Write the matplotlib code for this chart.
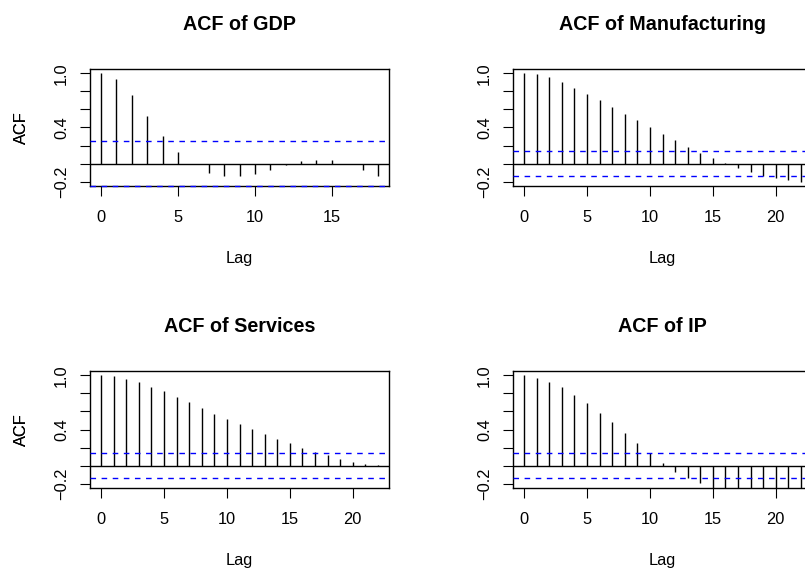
import numpy as np
import matplotlib
matplotlib.use("Agg")
import matplotlib.pyplot as plt

plt.rcParams['font.family'] = ['Liberation Sans', 'DejaVu Sans']

# autocorrelations, lag 0 first
titles = ['ACF of GDP', 'ACF of Manufacturing', 'ACF of Services', 'ACF of IP']

acf_gdp = [1.0, 0.934, 0.761, 0.529, 0.305, 0.125, -0.006, -0.100, -0.140, -0.140,
           -0.118, -0.066, -0.015, 0.024, 0.044, 0.037, -0.004, -0.066, -0.140]
acf_manuf = [1.0, 0.989, 0.956, 0.904, 0.842, 0.776, 0.702, 0.629, 0.555, 0.482,
             0.408, 0.331, 0.261, 0.187, 0.121, 0.062, 0.006, -0.050, -0.094, -0.134,
             -0.160, -0.184, -0.200]
acf_serv = [1.0, 0.989, 0.960, 0.923, 0.876, 0.821, 0.759, 0.700, 0.639, 0.577,
            0.518, 0.456, 0.401, 0.347, 0.292, 0.245, 0.196, 0.155, 0.115, 0.078,
            0.044, 0.015, 0.004]
acf_ip = [1.0, 0.967, 0.927, 0.869, 0.781, 0.690, 0.588, 0.478, 0.361, 0.245,
          0.135, 0.033, -0.067, -0.133, -0.196, -0.26, -0.29, -0.32, -0.34, -0.35,
          -0.36, -0.36, -0.35]

# 95% bounds (dashed blue lines)
ci_bounds = [0.245, 0.14, 0.14, 0.14]

y_ticks = [-0.2, 0.0, 0.2, 0.4, 0.6, 0.8, 1.0]
y_ticklabels = ['\u22120.2', '', '', '0.4', '', '', '1.0']

series = [acf_gdp, acf_manuf, acf_serv, acf_ip]

W, H = 805, 570
fig = plt.figure(figsize=(W / 100, H / 100), dpi=100)

# plot frames in pixels (left, top); right column runs past the image edge
frames = [(90, 69), (513, 69), (90, 371), (513, 371)]
fw, fh = 299, 117

for (x0, y0), title, acf, ci in zip(frames, titles, series, ci_bounds):
    ax = fig.add_axes([x0 / W, 1 - (y0 + fh) / H, fw / W, fh / H])
    lags = np.arange(len(acf))
    maxlag = lags[-1]

    ax.vlines(lags, 0, acf, color='black', lw=1)
    ax.axhline(0, color='black', lw=1)
    ax.axhline(ci, color='blue', lw=1, ls=(0, (4, 4)), zorder=3)
    ax.axhline(-ci, color='blue', lw=1, ls=(0, (4, 4)), zorder=3, clip_on=False)

    ax.set_xlim(-0.04 * maxlag, 1.04 * maxlag)
    ax.set_ylim(-0.248, 1.048)
    ax.set_xticks(np.arange(0, maxlag + 1, 5))
    ax.set_yticks(y_ticks)
    ax.set_yticklabels(y_ticklabels, rotation=90, va='center')

    ax.tick_params(axis='both', length=7, width=0.8, labelsize=11.8, color='black')
    ax.tick_params(axis='x', pad=10)
    ax.tick_params(axis='y', pad=8)
    for s in ax.spines.values():
        s.set_linewidth(1)
        s.set_color('black')

    ax.set_title(title, fontsize=14.2, fontweight='bold', pad=28)
    ax.set_xlabel('Lag', fontsize=11.8, va='center')
    ax.xaxis.set_label_coords(0.5, -73 / fh)
    ax.set_ylabel('ACF', fontsize=11.8, va='center')
    ax.yaxis.set_label_coords(-(x0 - 21) / fw, 0.5)

fig.savefig('out.png', dpi=100)
